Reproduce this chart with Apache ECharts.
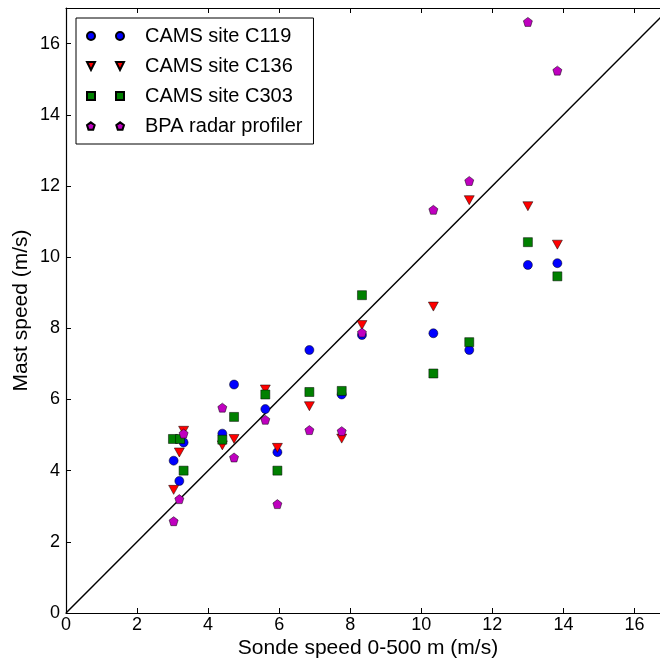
<!DOCTYPE html>
<html>
<head>
<meta charset="utf-8">
<script src="https://cdn.jsdelivr.net/npm/echarts@6/dist/echarts.min.js"></script>
<style>
  html, body { margin: 0; padding: 0; background: #fff; }
  #chart { width: 660px; height: 661px; }
</style>
</head>
<body>
<div id="chart"></div>
<script>
// sonde speed (x) shared by every site, one value per sounding
let sondeSpeed = [3.03, 3.19, 3.31, 4.40, 4.73, 5.61, 5.95, 6.85, 7.76, 8.33, 10.34, 11.35, 13.00, 13.83];
let c303X      = [3.01, 3.21, 3.31, 4.40, 4.73, 5.61, 5.95, 6.85, 7.76, 8.33, 10.34, 11.35, 13.00, 13.83];
// mast speeds (y)
let c119 = [4.28, 3.71, 4.79, 5.04, 6.42, 5.73, 4.52, 7.39, 6.14, 7.81, 7.86, 7.39, 9.78, 9.83];
let c136 = [3.46, 4.51, 5.12, 4.71, 4.89, 6.28, 4.64, 5.81, 4.90, 8.09, 8.61, 11.60, 11.43, 10.35];
let c303 = [4.89, 4.89, 4.00, 4.87, 5.51, 6.14, 4.00, 6.21, 6.24, 8.93, 6.73, 7.61, 10.42, 9.46];
let bpa  = [2.58, 3.20, 5.04, 5.77, 4.37, 5.43, 3.06, 5.14, 5.11, 7.88, 11.33, 12.14, 16.61, 15.24];
let oneToOne = [[0, 0], [17, 17]];
let names = ['CAMS site C119', 'CAMS site C136', 'CAMS site C303', 'BPA radar profiler'];

let font = 'Liberation Sans';
let pentagon = 'path://M10,0L19.51,6.91L15.88,18.09L4.12,18.09L0.49,6.91Z';

// legend icons draw two markers like matplotlib (numpoints=2)
let legendIcons = [
    'path://M0,4a4,4 0 1,0 8,0a4,4 0 1,0 -8,0ZM29,4a4,4 0 1,0 8,0a4,4 0 1,0 -8,0Z',
    'path://M0,0L8,0L4,8ZM29,0L37,0L33,8Z',
    'path://M0,0L8,0L8,8L0,8ZM29,0L37,0L37,8L29,8Z',
    'path://M4,0.2L7.8,2.96L6.35,7.44L1.65,7.44L0.2,2.96ZM33,0.2L36.8,2.96L35.35,7.44L30.65,7.44L29.2,2.96Z'
];

function pairs(xs, ys) {
    return xs.map(function (x, i) { return [x, ys[i]]; });
}

let chart = echarts.init(document.getElementById('chart'));

let axisCommon = {
    type: 'value',
    min: 0,
    max: 17,
    interval: 2,
    splitLine: {show: false},
    axisLine: {show: true, lineStyle: {color: '#000', width: 1.2}},
    axisTick: {show: true, inside: true, length: 5, lineStyle: {color: '#000', width: 1}}
};

let option = {
    backgroundColor: '#fff',
    animation: false,
    textStyle: {fontFamily: font},
    // plot runs past the right edge of the picture, as in the original
    grid: {left: 66, top: 8, width: 604, height: 605, outerBoundsMode: 'none', containLabel: false},
    legend: {
        orient: 'vertical',
        left: 76,
        top: 18,
        padding: [8, 11, 8, 10],
        itemGap: 10,
        itemWidth: 37,
        itemHeight: 8,
        borderColor: '#000',
        borderWidth: 1,
        backgroundColor: '#fff',
        textStyle: {fontFamily: font, fontSize: 20, color: '#000', lineHeight: 20, padding: [0, 0, 0, 16]},
        data: names.map(function (n, i) { return {name: n, icon: legendIcons[i]}; })
    },
    xAxis: [
        Object.assign({}, axisCommon, {
            position: 'bottom',
            name: 'Sonde speed 0-500 m (m/s)',
            nameLocation: 'middle',
            nameGap: 25,
            nameMoveOverlap: false,
            nameTextStyle: {fontFamily: font, fontSize: 21, color: '#000'},
            axisLabel: {
                fontFamily: font, fontSize: 18, color: '#000', margin: 3,
                formatter: function (v) { return v > 16 ? '' : v; }
            }
        }),
        Object.assign({}, axisCommon, {position: 'top', axisLabel: {show: false}})
    ],
    yAxis: Object.assign({}, axisCommon, {
        name: 'Mast speed (m/s)',
        nameLocation: 'middle',
        nameGap: 34,
        nameMoveOverlap: false,
        nameTextStyle: {fontFamily: font, fontSize: 21, color: '#000'},
        axisLabel: {
            fontFamily: font, fontSize: 18, color: '#000', margin: 6,
            formatter: function (v) { return v > 16 ? '' : v; }
        }
    }),
    series: [
        {
            name: '1:1',
            type: 'line',
            data: oneToOne,
            symbol: 'none',
            silent: true,
            z: 1,
            lineStyle: {color: '#000', width: 1.5}
        },
        {
            name: names[0], type: 'scatter', z: 2,
            symbol: 'circle', symbolSize: 9,
            itemStyle: {color: '#0000ff', borderColor: '#000', borderWidth: 0.5, opacity: 1},
            data: pairs(sondeSpeed, c119)
        },
        {
            name: names[1], type: 'scatter', z: 3,
            symbol: 'triangle', symbolRotate: 180, symbolSize: [10, 9],
            itemStyle: {color: '#ff0000', borderColor: '#000', borderWidth: 0.5, opacity: 1},
            data: pairs(sondeSpeed, c136)
        },
        {
            name: names[2], type: 'scatter', z: 4,
            symbol: 'rect', symbolSize: 9,
            itemStyle: {color: '#008000', borderColor: '#000', borderWidth: 0.5, opacity: 1},
            data: pairs(c303X, c303)
        },
        {
            name: names[3], type: 'scatter', z: 5,
            symbol: pentagon, symbolSize: 9,
            itemStyle: {color: '#bf00bf', borderColor: '#000', borderWidth: 0.5, opacity: 1},
            data: pairs(sondeSpeed, bpa)
        }
    ]
};

chart.setOption(option);
</script>
</body>
</html>
